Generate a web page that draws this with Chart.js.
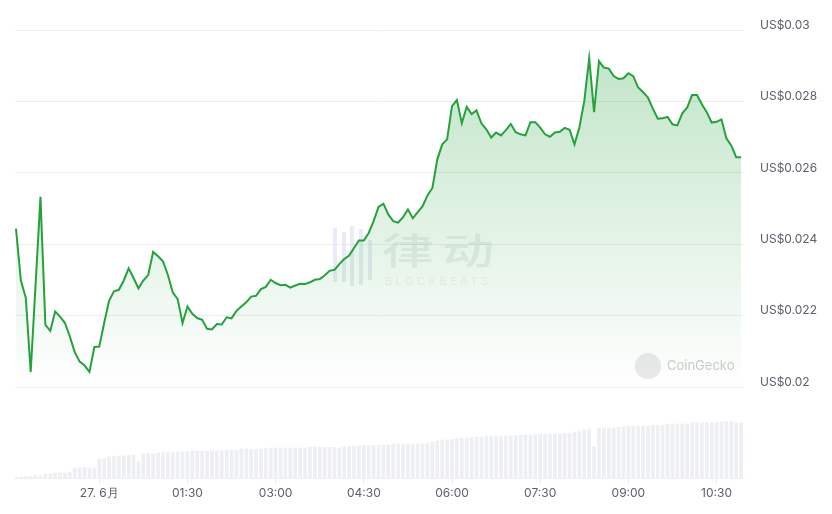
<!DOCTYPE html>
<html>
<head>
<meta charset="utf-8">
<script src="https://cdn.jsdelivr.net/npm/chart.js@4.4.1/dist/chart.umd.min.js"></script>
<style>
  html, body { margin: 0; padding: 0; background: #ffffff; }
  #wrap { width: 832px; height: 514px; position: relative; }
</style>
</head>
<body>
<div id="wrap"><canvas id="priceChart"></canvas></div>
<script>
// 5-minute samples, first one at 22:35 on 26 June (minutes relative to 27 June 00:00)
const startMinute = -85;
const stepMinutes = 5;

const prices = [
  0.02444, 0.02299, 0.02251, 0.02043, 0.02287, 0.02533, 0.02175, 0.02158, 0.02212, 0.02198,
  0.0218, 0.02142, 0.02098, 0.02072, 0.02061, 0.02043, 0.02113, 0.02114, 0.0218, 0.02242,
  0.02269, 0.02273, 0.02299, 0.02333, 0.02306, 0.02277, 0.02299, 0.02315, 0.02379, 0.02367,
  0.02353, 0.02315, 0.02266, 0.02247, 0.0218, 0.02226, 0.02206, 0.02194, 0.02189, 0.02164,
  0.02162, 0.02177, 0.02176, 0.02196, 0.02193, 0.02214, 0.02226, 0.02238, 0.02254, 0.02256,
  0.02275, 0.02281, 0.02301, 0.02292, 0.02286, 0.02287, 0.02279, 0.02285, 0.0229, 0.02289,
  0.02294, 0.02301, 0.02303, 0.02313, 0.02326, 0.02329, 0.02345, 0.02359, 0.02369, 0.0239,
  0.02411, 0.02411, 0.02432, 0.02465, 0.02505, 0.02514, 0.02484, 0.02465, 0.02461, 0.02476,
  0.02498, 0.02473, 0.0249, 0.02507, 0.02537, 0.02558, 0.02638, 0.0268, 0.02694, 0.02787,
  0.02804, 0.02739, 0.02785, 0.02765, 0.02775, 0.02739, 0.02722, 0.02699, 0.02713, 0.02705,
  0.0272, 0.02737, 0.02714, 0.02708, 0.02705, 0.02742, 0.02742, 0.02727, 0.02708, 0.02701,
  0.02713, 0.02715, 0.02726, 0.02721, 0.0268, 0.02727, 0.02801, 0.02921, 0.0277, 0.02913,
  0.02895, 0.02892, 0.02871, 0.02863, 0.02865, 0.02879, 0.02871, 0.02839, 0.02826, 0.02811,
  0.0278, 0.02752, 0.02753, 0.02757, 0.02736, 0.02733, 0.02767, 0.02783, 0.02818, 0.02818,
  0.02792, 0.0277, 0.02741, 0.02743, 0.0275, 0.02697, 0.02677, 0.02644, 0.02644
];

const volumes = [
  1, 1, 1.5, 1.5, 2.5, 2.5, 4, 4, 5, 5,
  5, 5.5, 10, 10, 10.5, 10, 9.5, 19, 19.5, 21,
  21.5, 22, 22, 22.5, 23, 16, 24, 24.5, 24, 25,
  26, 26, 26, 26, 26, 26.5, 27, 27, 26.5, 27,
  27.5, 27, 27.5, 28, 28, 27.5, 29, 29, 28.5, 28.5,
  29, 29.5, 30, 30, 30, 30, 30, 30, 30, 30,
  31, 31, 31, 30.5, 30.5, 30.5, 30, 31, 31.5, 32,
  32, 32.5, 32.5, 32.5, 32.5, 33, 33, 34, 34, 34,
  34, 34, 34, 34, 34.5, 36, 37, 38, 38, 38.5,
  39.5, 40, 40, 40.5, 41, 41, 41.5, 42, 42, 42,
  42, 42, 42.5, 43, 43, 43, 43.5, 44, 44, 44,
  44, 44, 44.5, 45, 46, 46.5, 48, 49, 31.5, 50,
  50, 50, 50, 50.5, 51, 51.5, 52, 52, 52, 52,
  52.5, 52.5, 53, 54, 54, 54, 54, 54, 55, 55.5,
  55.5, 55.5, 55.5, 55.5, 56, 56.5, 56.5, 55, 55
];

const xTickMinutes = [0, 90, 180, 270, 360, 450, 540, 630];
const xTickLabels = ["27. 6月", "01:30", "03:00", "04:30", "06:00", "07:30", "09:00", "10:30"];

const yTickValues = [0.02, 0.022, 0.024, 0.026, 0.028, 0.03];
const yTickLabels = ["US$0.02", "US$0.022", "US$0.024", "US$0.026", "US$0.028", "US$0.03"];

const lineGreen = "#24a23c";
const labelFont = { family: "Inter, 'Noto Sans', sans-serif", size: 12 };

function priceFill(context) {
  const chart = context.chart;
  const area = chart.chartArea;
  if (!area) return "rgba(36,162,60,0.15)";
  const bottom = chart.scales.y.getPixelForValue(0.02);
  const g = chart.ctx.createLinearGradient(0, area.top, 0, bottom);
  g.addColorStop(0, "rgba(36,162,60,0.30)");
  g.addColorStop(1, "rgba(36,162,60,0.0)");
  return g;
}

const watermarks = {
  id: "watermarks",
  beforeDatasetsDraw(chart) {
    const ctx = chart.ctx;
    ctx.save();
    // BlockBeats logo
    ctx.fillStyle = "rgba(215,221,238,0.55)";
    [[333, 228, 4, 54], [342, 232, 4, 50], [350, 226, 4, 60], [359, 229, 4, 56], [368, 240, 4, 40]]
      .forEach(([x, y, w, h]) => ctx.fillRect(x, y, w, h));
    ctx.fillStyle = "rgba(185,190,196,0.26)";
    ctx.font = "500 37px 'Noto Sans CJK SC'";
    ctx.textBaseline = "alphabetic";
    ctx.save();
    ctx.translate(382, 265);
    ctx.scale(1.4, 1);
    ctx.letterSpacing = "6px";
    ctx.fillText("律动", 0, 0);
    ctx.restore();
    ctx.font = "11px Inter, sans-serif";
    ctx.letterSpacing = "3.5px";
    ctx.fillStyle = "rgba(195,200,206,0.25)";
    ctx.fillText("BLOCKBEATS", 385, 285);
    ctx.letterSpacing = "0px";
    // CoinGecko logo
    ctx.fillStyle = "rgba(228,228,228,0.8)";
    ctx.beginPath();
    ctx.arc(648, 366, 13, 0, Math.PI * 2);
    ctx.fill();
    ctx.fillStyle = "rgba(195,195,195,0.85)";
    ctx.font = "13px Inter, sans-serif";
    ctx.textBaseline = "middle";
    ctx.fillText("CoinGecko", 667, 366);
    ctx.restore();
  }
};

new Chart("priceChart", {
  data: {
    datasets: [
      {
        type: "line",
        data: prices.map((p, i) => ({ x: startMinute + i * stepMinutes, y: p })),
        borderColor: lineGreen,
        borderWidth: 2,
        pointRadius: 0,
        tension: 0,
        fill: { value: 0.02 },
        backgroundColor: priceFill,
        yAxisID: "y",
        order: 0
      },
      {
        type: "bar",
        data: volumes.map((v, i) => ({ x: startMinute + i * stepMinutes, y: v })),
        backgroundColor: "#edeff2",
        barThickness: 3,
        yAxisID: "vol",
        order: 1
      }
    ]
  },
  options: {
    responsive: true,
    maintainAspectRatio: false,
    animation: false,
    layout: { padding: { top: 30, left: 15, right: 0, bottom: 0 } },
    plugins: { legend: { display: false }, tooltip: { enabled: false } },
    scales: {
      x: {
        type: "linear",
        offset: false,
        min: -86,
        max: 658,
        afterBuildTicks: axis => { axis.ticks = xTickMinutes.map(v => ({ value: v })); },
        afterFit: axis => { axis.height = 36; },
        ticks: {
          autoSkip: false,
          maxRotation: 0,
          color: "#5b606b",
          font: labelFont,
          padding: 3,
          callback: (v, i) => xTickLabels[i]
        },
        grid: { offset: false, drawOnChartArea: false, drawTicks: true, tickLength: 5, color: "#e4e6e9" },
        border: { display: true, color: "#eef0f2" }
      },
      y: {
        position: "right",
        min: 0.017463,
        max: 0.03,
        afterBuildTicks: axis => { axis.ticks = yTickValues.map(v => ({ value: v })); },
        afterFit: axis => { axis.width = 88; },
        ticks: {
          color: "#5b606b",
          font: labelFont,
          padding: 16,
          labelOffset: -5,
          callback: (v, i) => yTickLabels[i]
        },
        grid: { color: "#ededed", drawTicks: false },
        border: { display: false }
      },
      vol: {
        display: false,
        min: 0,
        max: 448
      }
    }
  },
  plugins: [watermarks]
});
</script>
</body>
</html>
